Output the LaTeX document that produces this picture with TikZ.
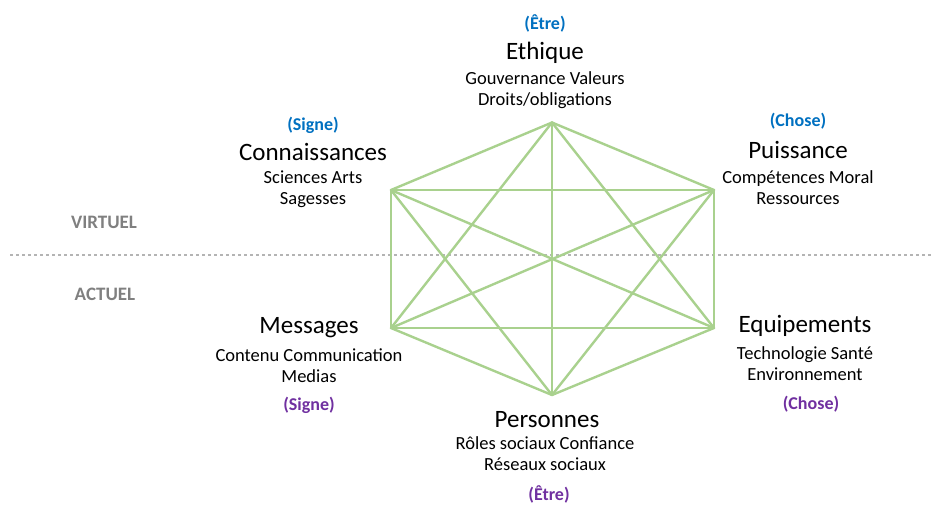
\documentclass[tikz,border=0pt]{standalone}
\usepackage{fontspec}
\setmainfont{Carlito}
\usetikzlibrary{positioning}
\definecolor{linkgreen}{HTML}{A9D18E}
\definecolor{tagblue}{HTML}{0070C0}
\definecolor{tagpurple}{HTML}{7030A0}
\definecolor{levelgray}{HTML}{808080}
\definecolor{dotgray}{HTML}{B4B4B4}

\begin{document}
\begin{tikzpicture}[x=1pt, y=-1pt, inner sep=0pt,
		title/.style={anchor=base, font=\fontsize{25}{30}\selectfont},
		detail/.style={anchor=base, align=center, font=\fontsize{18.5}{21}\selectfont},
		tagup/.style={anchor=base, font=\bfseries\fontsize{18}{22}\selectfont, text=tagblue},
		tagdown/.style={tagup, text=tagpurple},
		level/.style={anchor=base, font=\bfseries\fontsize{19}{22}\selectfont, text=levelgray},
		link/.style={draw=linkgreen, line width=2.4pt, line cap=round}]
		\useasboundingbox (0,0) rectangle (931,504);

		% frontiere virtuel / actuel
		\coordinate (lineL) at (10,255);
		\coordinate (lineR) at (931,255);
		\draw[dotgray, line width=1.8pt, dash pattern=on 3pt off 3pt] (lineL) -- (lineR);
		\node[level] (virt) at (104,228) {VIRTUEL};
		\node[level] (act) at (105,300) {ACTUEL};

		% sommets de l'hexagone
		\coordinate (v1) at (552,122.5);
		\coordinate (v2) at (391,190);
		\coordinate (v3) at (714,190);
		\coordinate (v4) at (391,328);
		\coordinate (v5) at (714,328);
		\coordinate (v6) at (552,395);
		\foreach \a/\b in {1/2,1/3,1/4,1/5,1/6,2/3,2/4,2/5,2/6,3/4,3/5,3/6,4/5,4/6,5/6}
			\draw[link] (v\a) -- (v\b);

		% textes du haut
		\node[title] (eth) at (545,59) {Ethique};
		\node[detail] (ethd) at ([yshift=-46pt]eth.base) {Gouvernance Valeurs\\Droits/obligations};
		\node[tagup] (etht) at ([yshift=30pt]eth.base) {(Être)};

		\node[title] (con) at (313,160) {Connaissances};
		\node[detail] (cond) at ([yshift=-44pt]con.base) {Sciences Arts\\Sagesses};
		\node[tagup] (cont) at ([yshift=30pt]con.base) {(Signe)};

		\node[title] (pui) at (798,158) {Puissance};
		\node[detail] (puid) at ([yshift=-46pt]pui.base) {Compétences Moral\\Ressources};
		\node[tagup] (puit) at ([yshift=32pt]pui.base) {(Chose)};

		% textes du bas
		\node[title] (mes) at (309,333) {Messages};
		\node[detail] (mesd) at ([yshift=-49pt]mes.base) {Contenu Communication\\Medias};
		\node[tagdown] (mest) at ([yshift=-77pt]mes.base) {(Signe)};

		\node[title] (equ) at (805,332) {Equipements};
		\node[detail] (equd) at ([yshift=-48pt]equ.base) {Technologie Santé\\Environnement};
		\node[tagdown] (equt) at ([xshift=6pt,yshift=-77pt]equ.base) {(Chose)};

		\node[title] (per) at (547,427) {Personnes};
		\node[detail] (perd) at ([xshift=-2pt,yshift=-43pt]per.base) {Rôles sociaux Confiance\\Réseaux sociaux};
		\node[tagdown] (pert) at ([xshift=2pt,yshift=-73pt]per.base) {(Être)};
	\end{tikzpicture}
\end{document}
